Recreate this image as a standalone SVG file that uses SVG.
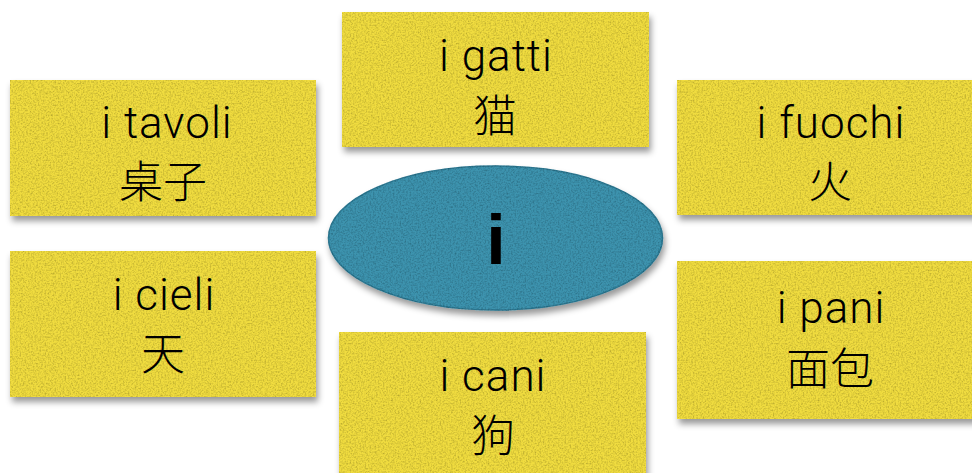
<svg xmlns="http://www.w3.org/2000/svg" width="972" height="473" viewBox="0 0 972 473">
<defs>
<filter id="tex" x="-5%" y="-8%" width="115%" height="125%">
<feGaussianBlur in="SourceAlpha" stdDeviation="3" result="b"/>
<feOffset in="b" dx="2" dy="5" result="ob"/>
<feFlood flood-color="#000" flood-opacity="0.4"/>
<feComposite in2="ob" operator="in" result="shadow"/>
<feTurbulence type="fractalNoise" baseFrequency="0.6" numOctaves="2" seed="4" result="n"/>
<feColorMatrix in="n" type="matrix" values="0 0 0 0 0  0 0 0 0 0  0 0 0 0 0  0.9 0 0 0 -0.36" result="dk"/>
<feComposite in="dk" in2="SourceAlpha" operator="in" result="dkc"/>
<feMerge>
<feMergeNode in="shadow"/>
<feMergeNode in="SourceGraphic"/>
<feMergeNode in="dkc"/>
</feMerge>
</filter>
<style>
.box{fill:#f0dc40;filter:url(#tex)}
.it{font-family:Roboto,"Open Sans","Liberation Sans","Noto Sans CJK SC",sans-serif;font-weight:300;font-size:44px;letter-spacing:1px;fill:#000;text-anchor:middle}
.zh{font-family:"Noto Sans CJK SC",sans-serif;font-weight:300;font-size:44px;fill:#000;text-anchor:middle}
.big{font-family:"Liberation Sans",Arial,sans-serif;font-weight:bold;font-size:70px;fill:#000;text-anchor:middle}
</style>
</defs>
<rect width="972" height="473" fill="#fff"/>
<g id="connectors"></g>
<g id="tavoli">
<rect class="box" x="10" y="80" width="306" height="136"/>
<text class="it" x="167" y="138">i tavoli</text>
<text class="zh" x="163" y="198">桌子</text>
</g>
<g id="gatti">
<rect class="box" x="342" y="12" width="307" height="135"/>
<text class="it" x="496" y="71">i gatti</text>
<text class="zh" x="495" y="132">猫</text>
</g>
<g id="fuochi">
<rect class="box" x="677" y="80" width="300" height="135"/>
<text class="it" x="831" y="138">i fuochi</text>
<text class="zh" x="830" y="198">火</text>
</g>
<g id="cieli">
<rect class="box" x="10" y="251" width="306" height="146"/>
<text class="it" x="164" y="310">i cieli</text>
<text class="zh" x="163" y="370">天</text>
</g>
<g id="cani">
<rect class="box" x="339" y="332" width="307" height="150"/>
<text class="it" x="493" y="391">i cani</text>
<text class="zh" x="493" y="452">狗</text>
</g>
<g id="pani">
<rect class="box" x="677" y="261" width="300" height="158"/>
<text class="it" x="831" y="323">i pani</text>
<text class="zh" x="830" y="385">面包</text>
</g>
<g id="center">
<ellipse cx="495.5" cy="238" rx="167" ry="72" fill="#3c93ae" stroke="#2d7892" stroke-width="1.5" filter="url(#tex)"/>
<text class="big" x="496" y="264">i</text>
</g>
</svg>
